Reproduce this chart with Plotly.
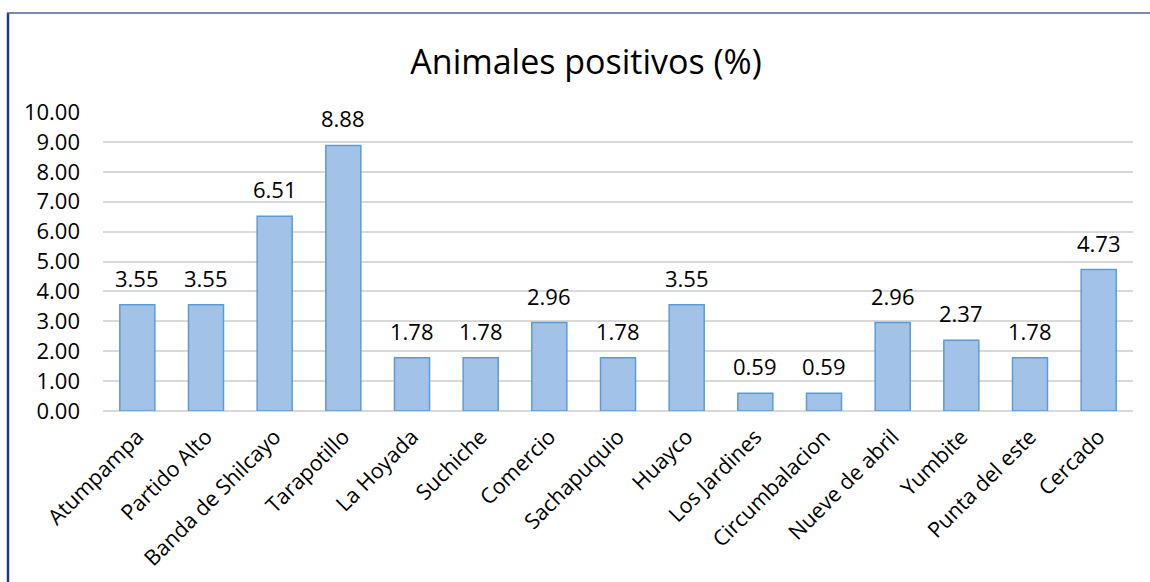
import plotly.graph_objects as go

categories = ["Atumpampa", "Partido Alto", "Banda de Shilcayo", "Tarapotillo", "La Hoyada",
              "Suchiche", "Comercio", "Sachapuquio", "Huayco", "Los Jardines",
              "Circumbalacion", "Nueve de abril", "Yumbite", "Punta del este", "Cercado"]
values = [3.55, 3.55, 6.51, 8.88, 1.78, 1.78, 2.96, 1.78, 3.55, 0.59, 0.59, 2.96, 2.37, 1.78, 4.73]
y_ticks = [0, 1, 2, 3, 4, 5, 6, 7, 8, 9, 10]
title_text = "Animales positivos (%)"

W, H = 1150, 582
L, R, T, B = 103, 17, 112, 171
pw, ph = W - L - R, H - T - B

def px_x(x):
    return (x - L) / pw

def px_y(y):
    return (H - B - y) / ph

font = "Open Sans"

fig = go.Figure(go.Bar(
    x=categories, y=values,
    marker=dict(color="#A3C2E8", line=dict(color="#5B9BD5", width=1.5)),
    cliponaxis=False,
))

for c, v in zip(categories, values):
    fig.add_annotation(x=c, y=v, xref="x", yref="y", text=f"{v:.2f}", showarrow=False,
                       yanchor="middle", yshift=27,
                       font=dict(family=font, size=22, color="#000000"))

fig.update_layout(
    width=W, height=H,
    margin=dict(l=L, r=R, t=T, b=B),
    paper_bgcolor="white", plot_bgcolor="white",
    bargap=0.49,
    showlegend=False,
    title=dict(text=title_text, x=586 / W, xanchor="center", y=1 - 62 / H, yanchor="middle",
               font=dict(family=font, size=34, color="#000000")),
    xaxis=dict(tickangle=-45, tickfont=dict(family=font, size=21.5, color="#000000"),
               ticklabelstandoff=8, automargin=False,
               showgrid=False, showline=False, ticks=""),
    yaxis=dict(range=[0, 10], tickvals=y_ticks, tickformat=".2f",
               tickfont=dict(family=font, size=22, color="#000000"),
               ticklabelstandoff=22, automargin=False,
               showgrid=True, gridcolor="#D9D9D9", gridwidth=1.5,
               zeroline=True, zerolinecolor="#D9D9D9", zerolinewidth=1.5,
               ticks="", showline=False),
    shapes=[
        dict(type="line", xref="paper", yref="paper", x0=px_x(8), x1=px_x(8),
             y0=px_y(13), y1=px_y(H + 5), line=dict(color="#1F3F7F", width=2.5)),
        dict(type="line", xref="paper", yref="paper", x0=px_x(7), x1=px_x(W + 5),
             y0=px_y(13), y1=px_y(13), line=dict(color="#4A6496", width=1.5)),
    ],
)

fig.write_html("out.html", config={"displayModeBar": False},
               post_script="document.body.style.margin='0';document.body.style.overflow='hidden';")
